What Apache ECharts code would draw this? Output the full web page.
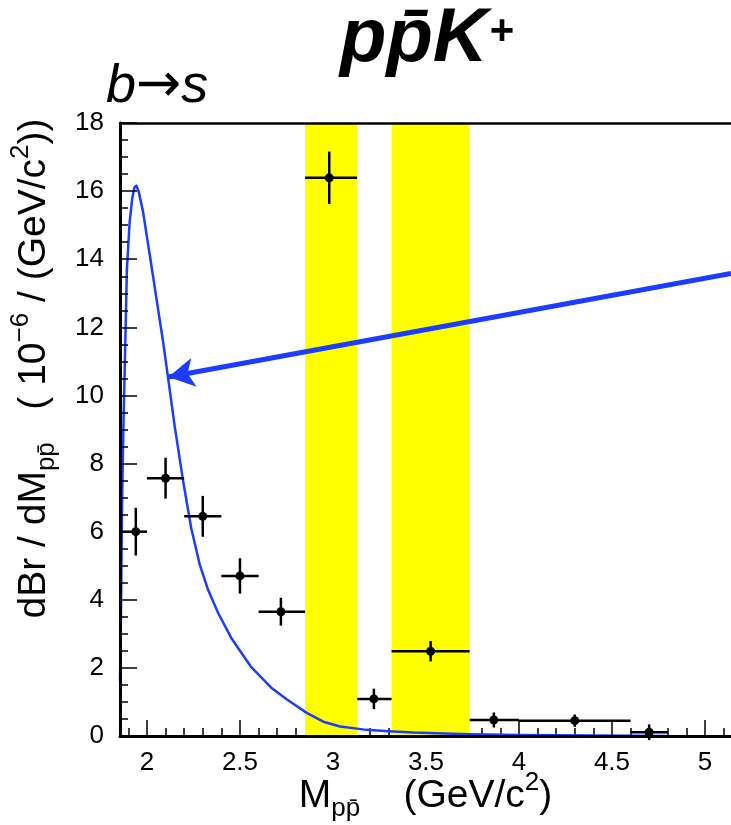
<!DOCTYPE html>
<html>
<head>
<meta charset="utf-8">
<script src="https://cdn.jsdelivr.net/npm/echarts@6/dist/echarts.min.js"></script>
<style>
html,body{margin:0;padding:0;background:#fff;}
#chart{width:731px;height:825px;}
</style>
</head>
<body>
<div id="chart"></div>
<script>
// ---- data ----
const xCenter = [1.94, 2.10, 2.30, 2.50, 2.72, 2.98, 3.22, 3.525, 3.865, 4.30, 4.70];
const binLow  = [1.866, 2.0, 2.2, 2.4, 2.6, 2.85, 3.13, 3.315, 3.735, 4.0, 4.6];
const binHigh = [2.0, 2.2, 2.4, 2.6, 2.85, 3.13, 3.315, 3.735, 4.0, 4.6, 4.8];
const yValue  = [6.0, 7.57, 6.45, 4.70, 3.65, 16.39, 1.09, 2.49, 0.47, 0.45, 0.11];
const yError  = [0.7, 0.6, 0.6, 0.52, 0.41, 0.77, 0.3, 0.3, 0.22, 0.18, 0.23];

const curveX = [1.855, 1.860, 1.866, 1.873, 1.880, 1.892, 1.907, 1.921, 1.932, 1.943, 1.955, 1.978, 2.014, 2.050, 2.086, 2.113, 2.149, 2.194, 2.238, 2.283, 2.328, 2.382, 2.453, 2.561, 2.668, 2.751, 2.859, 2.948, 3.038, 3.181, 3.3, 3.432, 3.6, 3.737, 4.0, 4.4, 4.8];
const curveY = [1.6, 3.5, 6.8, 9.0, 10.7, 13.7, 15.1, 15.8, 16.1, 16.16, 16.0, 15.42, 14.16, 12.88, 11.6, 10.54, 9.1, 7.5, 6.1, 5.05, 4.3, 3.62, 2.88, 2.02, 1.42, 1.08, 0.68, 0.42, 0.28, 0.18, 0.14, 0.10, 0.07, 0.05, 0.03, 0.015, 0.0];

const bandStart = [2.85, 3.315];
const bandEnd   = [3.13, 3.735];

const arrowFrom = [5.14, 13.58];
const arrowTo   = [2.115, 10.54];

const xMajorTicks = [2, 2.5, 3, 3.5, 4, 4.5, 5];
const xMinorTicks = [1.9, 2.1, 2.2, 2.3, 2.4, 2.6, 2.7, 2.8, 2.9, 3.1, 3.2, 3.3, 3.4, 3.6, 3.7, 3.8, 3.9, 4.1, 4.2, 4.3, 4.4, 4.6, 4.7, 4.8, 4.9, 5.1];
const xMin = 1.855, xMax = 5.14;
const yMin = 0, yMax = 18, yStep = 2;

// ---- chart ----
const FONT = "'Liberation Sans', Arial, Helvetica, sans-serif";
const BLUE = '#1c3cff';
const chart = echarts.init(document.getElementById('chart'), null, {renderer: 'canvas'});

const points = xCenter.map((x, i) => [x, yValue[i], binLow[i], binHigh[i], yError[i]]);
const curve = curveX.map((x, i) => [x, curveY[i]]);
const bands = bandStart.map((s, i) => [{xAxis: s}, {xAxis: bandEnd[i]}]);

const axisRich = {
  m: {fontSize: 39, fontFamily: FONT, color: '#000', lineHeight: 52, verticalAlign: 'middle'},
  sub: {fontSize: 26, fontFamily: FONT, color: '#000', lineHeight: 26, verticalAlign: 'bottom'},
  sup: {fontSize: 26, fontFamily: FONT, color: '#000', lineHeight: 26, verticalAlign: 'top'}
};

const option = {
  backgroundColor: '#fff',
  animation: false,
  title: [
    {
      text: '{p|pp\u0304K}{s|+}',
      left: 335, top: -10,
      textStyle: {
        rich: {
          p: {fontSize: 76, fontWeight: 'bold', fontStyle: 'italic', fontFamily: FONT, color: '#000', lineHeight: 90, verticalAlign: 'middle'},
          s: {fontSize: 42, fontWeight: 'bold', fontFamily: FONT, color: '#000', lineHeight: 60, verticalAlign: 'top', padding: [16, 0, 0, 2]}
        }
      }
    },
    {
      text: '{b|b}{a|\u2192}{b|s}',
      left: 101, top: 50,
      textStyle: {
        rich: {
          b: {fontSize: 54, fontStyle: 'italic', fontWeight: 'normal', fontFamily: FONT, color: '#000', lineHeight: 64},
          a: {fontSize: 54, fontWeight: 'normal', fontFamily: "'DejaVu Sans', sans-serif", color: '#000', lineHeight: 64}
        }
      }
    }
  ],
  grid: {left: 120, right: 0, top: 123, bottom: 89, containLabel: false, outerBoundsMode: 'none'},
  xAxis: [
    {
      type: 'value', min: xMin, max: xMax, position: 'bottom', z: 0,
      axisLine: {show: false, onZero: false},
      axisTick: {show: true, inside: true, length: 16, customValues: xMajorTicks, lineStyle: {color: '#000', width: 1.5}},
      axisLabel: {show: true, customValues: xMajorTicks, fontSize: 26, fontFamily: FONT, color: '#000', margin: 14},
      splitLine: {show: false},
      name: '{m|M}{sub|pp\u0304}{m|    (GeV/c}{sup|2}{m|)}',
      nameLocation: 'middle', nameGap: 34, nameMoveOverlap: false,
      nameTextStyle: {rich: axisRich}
    },
    {
      type: 'value', min: xMin, max: xMax, position: 'bottom', z: 0,
      axisLine: {show: false, onZero: false},
      axisTick: {show: true, inside: true, length: 8, customValues: xMinorTicks, lineStyle: {color: '#000', width: 1.5}},
      axisLabel: {show: false},
      splitLine: {show: false}
    },
    {
      type: 'value', min: xMin, max: xMax, position: 'bottom', z: 6,
      axisLine: {show: true, onZero: false, lineStyle: {color: '#000', width: 3}},
      axisTick: {show: false}, axisLabel: {show: false}, splitLine: {show: false}
    },
    {
      type: 'value', min: xMin, max: xMax, position: 'top', z: 6,
      axisLine: {show: true, onZero: false, lineStyle: {color: '#000', width: 2.5}},
      axisTick: {show: false}, axisLabel: {show: false}, splitLine: {show: false}
    }
  ],
  yAxis: [
    {
      type: 'value', min: yMin, max: yMax, interval: yStep, position: 'left', z: 6,
      axisLine: {show: true, onZero: false, lineStyle: {color: '#000', width: 3}},
      axisTick: {show: true, inside: true, length: 17, lineStyle: {color: '#000', width: 1.5}},
      minorTick: {show: true, splitNumber: 4, length: 8, lineStyle: {color: '#000', width: 1.5}},
      axisLabel: {fontSize: 26, fontFamily: FONT, color: '#000', margin: 16},
      splitLine: {show: false},
      name: '{m|dBr / dM}{sub|pp\u0304}{m|   ( 10}{sup|\u22126}{m| / (GeV/c}{sup|2}{m|))}',
      nameLocation: 'middle', nameRotate: 90, nameGap: 60, nameMoveOverlap: false,
      nameTextStyle: {rich: axisRich, padding: [0, 0, 0, 122]}
    }
  ],
  series: [
    {
      type: 'line', xAxisIndex: 0, yAxisIndex: 0, z: 1,
      data: [], silent: true,
      markArea: {silent: true, itemStyle: {color: '#ffff00', opacity: 1}, data: bands}
    },
    {
      type: 'line', xAxisIndex: 0, yAxisIndex: 0, z: 3,
      data: curve, showSymbol: false, smooth: false, silent: true,
      lineStyle: {color: BLUE, width: 2.5, join: 'round'},
      markLine: {
        silent: true, animation: false,
        symbol: ['none', 'arrow'], symbolSize: [22, 26],
        label: {show: false},
        lineStyle: {color: BLUE, width: 5, type: 'solid'},
        data: [[{coord: arrowFrom}, {coord: arrowTo}]]
      }
    },
    {
      type: 'custom', xAxisIndex: 0, yAxisIndex: 0, z: 4,
      data: points,
      encode: {x: 0, y: 1},
      renderItem: function (params, api) {
        const x = api.value(0), y = api.value(1), lo = api.value(2), hi = api.value(3), e = api.value(4);
        const c = api.coord([x, y]);
        const l = api.coord([lo, y]);
        const r = api.coord([hi, y]);
        const t = api.coord([x, y + e]);
        const b = api.coord([x, y - e]);
        return {
          type: 'group',
          children: [
            {type: 'line', shape: {x1: l[0], y1: l[1], x2: r[0], y2: r[1]}, style: {stroke: '#000', lineWidth: 2.5}},
            {type: 'line', shape: {x1: t[0], y1: t[1], x2: b[0], y2: b[1]}, style: {stroke: '#000', lineWidth: 2.5}},
            {type: 'circle', shape: {cx: c[0], cy: c[1], r: 4.5}, style: {fill: '#000'}}
          ]
        };
      }
    }
  ]
};
chart.setOption(option);
</script>
</body>
</html>
